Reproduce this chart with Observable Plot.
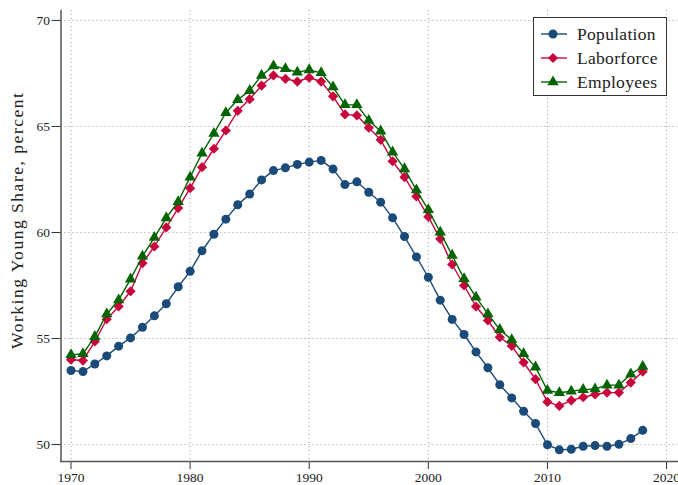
<!DOCTYPE html>
<html>
<head>
<meta charset="utf-8">
<script src="https://cdn.jsdelivr.net/npm/d3@7"></script>
<script src="https://cdn.jsdelivr.net/npm/@observablehq/plot@0.6"></script>
<style>
  html, body { margin: 0; padding: 0; background: #fff; }
  #wrap { position: relative; width: 678px; height: 485px; font-family: "Liberation Serif", serif; }
  #legend { position: absolute; left: 533px; top: 17px; width: 134px; height: 79px; border: 1px solid #333; background: #fff; box-sizing: border-box; }
  .row { position: absolute; left: 0; height: 24px; display: flex; align-items: center; }
  .row svg { margin-left: 6px; }
  .row span { margin-left: 9px; font-size: 17.5px; color: #222; letter-spacing: 0.3px; }
</style>
</head>
<body>
<div id="wrap"></div>
<script>
const years = [1970,1971,1972,1973,1974,1975,1976,1977,1978,1979,1980,1981,1982,1983,1984,1985,1986,1987,1988,1989,1990,1991,1992,1993,1994,1995,1996,1997,1998,1999,2000,2001,2002,2003,2004,2005,2006,2007,2008,2009,2010,2011,2012,2013,2014,2015,2016,2017,2018];
const population = [53.49,53.44,53.80,54.18,54.64,55.03,55.53,56.07,56.64,57.44,58.17,59.14,59.92,60.63,61.31,61.81,62.48,62.92,63.05,63.21,63.32,63.40,62.99,62.26,62.39,61.90,61.43,60.69,59.81,58.85,57.89,56.81,55.90,55.19,54.37,53.62,52.82,52.20,51.57,50.99,49.99,49.75,49.78,49.92,49.95,49.92,50.01,50.28,50.67];
const laborforce = [54.00,53.96,54.86,55.91,56.51,57.23,58.55,59.34,60.24,61.15,62.09,63.08,63.95,64.81,65.74,66.29,66.93,67.41,67.25,67.12,67.30,67.12,66.42,65.57,65.52,64.94,64.37,63.36,62.61,61.70,60.74,59.70,58.49,57.50,56.51,55.85,55.06,54.65,53.87,53.08,52.01,51.82,52.08,52.23,52.36,52.45,52.45,52.92,53.44];
const employees = [54.23,54.28,55.09,56.16,56.82,57.80,58.88,59.76,60.69,61.45,62.61,63.74,64.67,65.65,66.26,66.69,67.41,67.85,67.72,67.56,67.67,67.53,66.86,66.02,66.02,65.28,64.78,63.79,63.00,62.00,61.07,60.01,58.92,57.82,56.95,56.16,55.42,54.94,54.28,53.65,52.55,52.44,52.51,52.59,52.62,52.80,52.80,53.32,53.68];
const seriesNames = ["Population", "Laborforce", "Employees"];
const seriesColors = ["#1a4a78", "#c8063e", "#006400"];
const seriesSymbols = ["circle", "diamond2", "triangle"];
const seriesR = [4.5, 4.6, 4.2];
const xTicks = [1970, 1980, 1990, 2000, 2010, 2020];
const yTicks = [50, 55, 60, 65, 70];
const yLabel = "Working Young Share, percent";

const seriesValues = [population, laborforce, employees];
const rows = [];
seriesNames.forEach((name, s) => {
  years.forEach((yr, i) => rows.push({series: name, year: yr, value: seriesValues[s][i]}));
});

const marks = [
  Plot.gridX(xTicks, {stroke: "#9a9a9a", strokeOpacity: 1, strokeDasharray: "1,3", strokeWidth: 1}),
  Plot.gridY(yTicks, {stroke: "#9a9a9a", strokeOpacity: 1, strokeDasharray: "1,3", strokeWidth: 1}),
  Plot.axisX(xTicks, {tickSize: 8, tickPadding: 3, tickFormat: d => String(d), label: null, stroke: "#333", fontSize: 13.5}),
  Plot.axisY(yTicks, {tickSize: 9, tickPadding: 2, label: null, stroke: "#333", fontSize: 13.5}),
  Plot.frame({anchor: "left", stroke: "#555", strokeWidth: 1.5}),
  Plot.frame({anchor: "bottom", stroke: "#555", strokeWidth: 1.5})
];
seriesNames.forEach((name, s) => {
  const d = rows.filter(r => r.series === name);
  marks.push(Plot.line(d, {x: "year", y: "value", stroke: seriesColors[s], strokeWidth: 1.4}));
  marks.push(Plot.dot(d, {x: "year", y: "value", fill: seriesColors[s], stroke: "none", symbol: seriesSymbols[s], r: seriesR[s]}));
});

const chart = Plot.plot({
  width: 678, height: 485,
  marginLeft: 60.5, marginRight: 1, marginTop: 10, marginBottom: 24,
  style: {fontFamily: "'Liberation Serif', serif", color: "#222", background: "#fff", fontSize: "13.5px"},
  x: {domain: [1969.16, 2020.92]},
  y: {domain: [49.2, 70.47]},
  marks
});

d3.select(chart).append("text")
  .attr("transform", "translate(19,221) rotate(-90)")
  .attr("text-anchor", "middle")
  .attr("dominant-baseline", "middle")
  .attr("font-size", 17.5)
  .attr("fill", "#222")
  .attr("font-family", "'Liberation Serif', serif")
  .attr("textLength", 256)
  .attr("lengthAdjust", "spacing")
  .text(yLabel);

const wrap = document.getElementById("wrap");
wrap.appendChild(chart);

// legend
const legend = document.createElement("div");
legend.id = "legend";
wrap.appendChild(legend);
seriesNames.forEach((name, s) => {
  const row = document.createElement("div");
  row.className = "row";
  row.style.top = (4 + s * 24) + "px";
  const sw = d3.create("svg").attr("width", 28).attr("height", 16);
  sw.append("line").attr("x1", 1).attr("x2", 27).attr("y1", 8).attr("y2", 8)
    .attr("stroke", seriesColors[s]).attr("stroke-width", 1.4);
  const sym = {circle: d3.symbolCircle, diamond2: d3.symbolDiamond2, triangle: d3.symbolTriangle}[seriesSymbols[s]];
  sw.append("path").attr("transform", "translate(13,8)")
    .attr("d", d3.symbol(sym, Math.PI * seriesR[s] * seriesR[s])())
    .attr("fill", seriesColors[s]);
  row.appendChild(sw.node());
  const t = document.createElement("span");
  t.textContent = name;
  row.appendChild(t);
  legend.appendChild(row);
});
</script>
</body>
</html>
